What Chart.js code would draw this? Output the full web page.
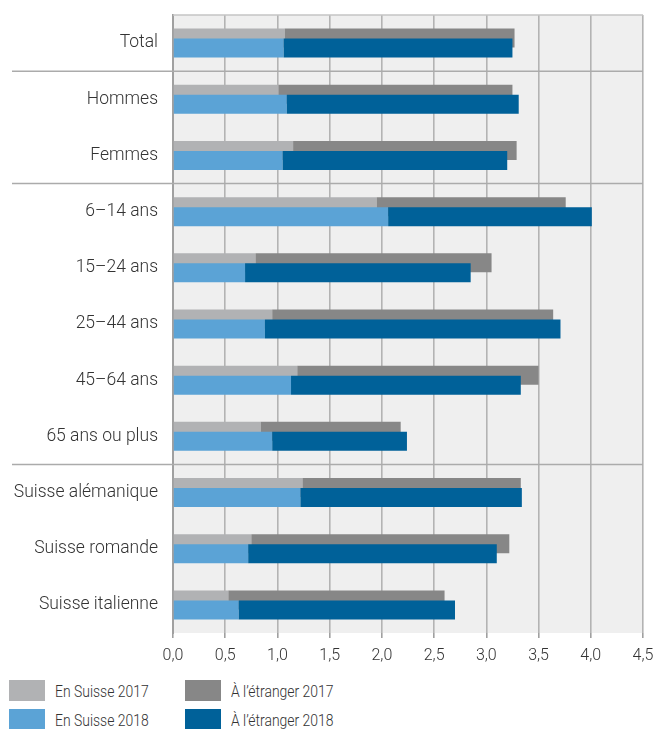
<!DOCTYPE html>
<html><head><meta charset="utf-8">
<script src="https://cdn.jsdelivr.net/npm/chart.js@4"></script>
<style>
html,body{margin:0;padding:0;background:#fff;}
#wrap{position:relative;width:655px;height:729px;font-family:Roboto,"Noto Sans",sans-serif;}
canvas{position:absolute;left:0;top:0;}
.lg{position:absolute;display:flex;align-items:center;font-size:17px;font-weight:300;color:#333;white-space:nowrap;}
.lg span{display:inline-block;transform:scaleX(0.82);transform-origin:left center;}
.sw{width:36px;height:21px;margin-right:10px;}
</style></head>
<body><div id="wrap"><canvas id="c" width="655" height="670"></canvas>
<div id="legend"></div></div>
<script>
const categories = ["Total","Hommes","Femmes","6–14 ans","15–24 ans","25–44 ans","45–64 ans","65 ans ou plus","Suisse alémanique","Suisse romande","Suisse italienne"];
const suisse2017 = [1.07,1.01,1.15,1.95,0.79,0.95,1.19,0.84,1.24,0.75,0.53];
const total2017  = [3.27,3.25,3.29,3.76,3.05,3.64,3.50,2.18,3.33,3.22,2.60];
const suisse2018 = [1.06,1.09,1.05,2.06,0.69,0.88,1.13,0.95,1.22,0.72,0.63];
const total2018  = [3.25,3.31,3.20,4.01,2.85,3.71,3.33,2.24,3.34,3.10,2.70];
const etranger2017 = total2017.map((t,i)=>+(t - suisse2017[i]).toFixed(2));
const etranger2018 = total2018.map((t,i)=>+(t - suisse2018[i]).toFixed(2));
const xTicks = [0,0.5,1,1.5,2,2.5,3,3.5,4,4.5];
const groupBreaks = [0,2,7];

const colors = {es17:'#b1b2b4', ae17:'#878787', es18:'#5ba3d6', ae18:'#006199'};
const labels = {es17:'En Suisse 2017', ae17:'À l’étranger 2017', es18:'En Suisse 2018', ae18:'À l’étranger 2018'};

const FONT = 'Roboto, "Noto Sans", sans-serif';

const bgPlugin = {
  id:'bg',
  beforeDraw(chart){
    const {ctx, chartArea:a} = chart;
    ctx.save(); ctx.fillStyle='#efefef';
    ctx.fillRect(a.left,a.top,a.right-a.left,a.bottom-a.top);
    ctx.restore();
  },
  afterDraw(chart){
    const {ctx, chartArea:a} = chart;
    const y = chart.scales.y;
    ctx.save();
    ctx.strokeStyle='#ababab'; ctx.lineWidth=1.6;
    groupBreaks.forEach(i=>{
      const py = (y.getPixelForValue(i)+y.getPixelForValue(i+1))/2;
      ctx.beginPath(); ctx.moveTo(12,py); ctx.lineTo(a.right,py); ctx.stroke();
    });
    ctx.strokeStyle='#c4c4c4'; ctx.lineWidth=1.6;
    ctx.beginPath(); ctx.moveTo(a.left,a.top); ctx.lineTo(a.right,a.top); ctx.stroke();
    ctx.restore();
  }
};
const drawOrderPlugin = {
  id:'drawOrder',
  beforeDatasetsDraw(chart){
    const metas = chart.getSortedVisibleDatasetMetas().slice().sort((a,b)=>a.index-b.index);
    metas.forEach(m=>m.controller.draw());
    return false;
  }
};

const common = {categoryPercentage:0.356, barPercentage:1.9, borderWidth:0};
new Chart(document.getElementById('c'), {
  type:'bar',
  data:{labels:categories, datasets:[
    {label:labels.es17, data:suisse2017, backgroundColor:colors.es17, stack:'2017', ...common},
    {label:labels.ae17, data:etranger2017, backgroundColor:colors.ae17, stack:'2017', ...common},
    {label:labels.es18, data:suisse2018, backgroundColor:colors.es18, stack:'2018', ...common},
    {label:labels.ae18, data:etranger2018, backgroundColor:colors.ae18, stack:'2018', ...common}
  ]},
  options:{
    indexAxis:'y', responsive:false, animation:false,
    layout:{padding:{top:15,right:12,left:0,bottom:0}},
    plugins:{legend:{display:false}, tooltip:{enabled:false}},
    scales:{
      x:{stacked:true, min:0, max:4.5,
        afterBuildTicks(s){ s.ticks = xTicks.map(v=>({value:v})); },
        afterFit(s){ s.height = 37; s.paddingLeft = 0; s.paddingRight = 0; },
        ticks:{font:{family:FONT,size:16,weight:300}, color:'#333', padding:8,
          callback:(v)=>Number(v).toFixed(1).replace('.',',')},
        grid:{color:'#b3b3b3', lineWidth:1.6, tickLength:5, tickColor:'#a0a0a0', drawTicks:true},
        border:{display:false}
      },
      y:{stacked:true,
        afterFit(s){ s.width = 173; s.paddingTop = 0; s.paddingBottom = 0; },
        ticks:{font:{family:FONT,size:17.5,weight:300}, color:'#333', padding:15},
        grid:{display:false, drawTicks:false},
        border:{display:true, color:'#a0a0a0', width:2}
      }
    }
  },
  plugins:[bgPlugin, drawOrderPlugin]
});

const leg = document.getElementById('legend');
[['es17',9,680],['ae17',185,680],['es18',9,709],['ae18',185,709]].forEach(([k,x,y])=>{
  const d=document.createElement('div'); d.className='lg';
  d.style.left=x+'px'; d.style.top=y+'px';
  d.innerHTML='<div class="sw" style="background:'+colors[k]+'"></div><span>'+labels[k]+'</span>';
  leg.appendChild(d);
});
</script></body></html>
